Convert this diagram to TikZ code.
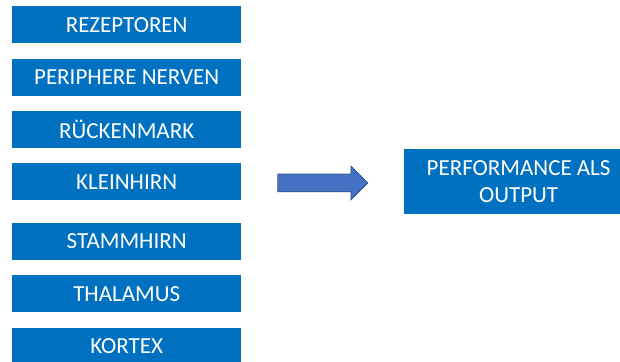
\documentclass[tikz,border=0pt]{standalone}
\usepackage{fontspec}
\setmainfont{Carlito}
\usepackage{tikz}
\usetikzlibrary{shapes,calc,positioning}
\definecolor{boxblue}{HTML}{0070C0}
\definecolor{arrowblue}{HTML}{4472C4}
\definecolor{arrowline}{HTML}{2F528F}

\begin{document}
\begin{tikzpicture}[x=1pt,y=-1pt,
levelnode/.style={rectangle, fill=boxblue, text=white, inner sep=0pt, minimum width=229pt, minimum height=37pt, font=\fontsize{23}{27}\selectfont},
outnode/.style={rectangle, fill=boxblue, text=white, inner sep=0pt, minimum width=230pt, minimum height=65pt, align=center, font=\fontsize{23}{27}\selectfont},
blockarrow/.style={single arrow, fill=arrowblue, draw=arrowline, line width=0.8pt, inner xsep=0pt, inner ysep=8.5pt, minimum height=90pt, single arrow head extend=8pt}
]
\useasboundingbox (0,0) rectangle (620,361);
% Levels
%Nodes
\node[levelnode, anchor=north west] (rez)   at (12,6)           {REZEPTOREN};
\node[levelnode]        (nerv)      [below=15pt of rez]   {PERIPHERE NERVEN};
\node[levelnode]        (ruck)      [below=15pt of nerv]  {RÜCKENMARK};
\node[levelnode]        (klein)     [below=15pt of ruck]  {KLEINHIRN};
\node[levelnode]        (stamm)     [below=22pt of klein] {STAMMHIRN};
\node[levelnode]        (thal)      [below=15pt of stamm] {THALAMUS};
\node[levelnode]        (kort)      [below=15pt of thal]  {KORTEX};
% Output
\node[outnode]          (out)       [right=162pt of klein] {PERFORMANCE ALS\\OUTPUT};
%Arrow
\node[blockarrow, anchor=tail] (arr) at ($(klein.east)+(36,1)$) {};

\end{tikzpicture}
\end{document}
